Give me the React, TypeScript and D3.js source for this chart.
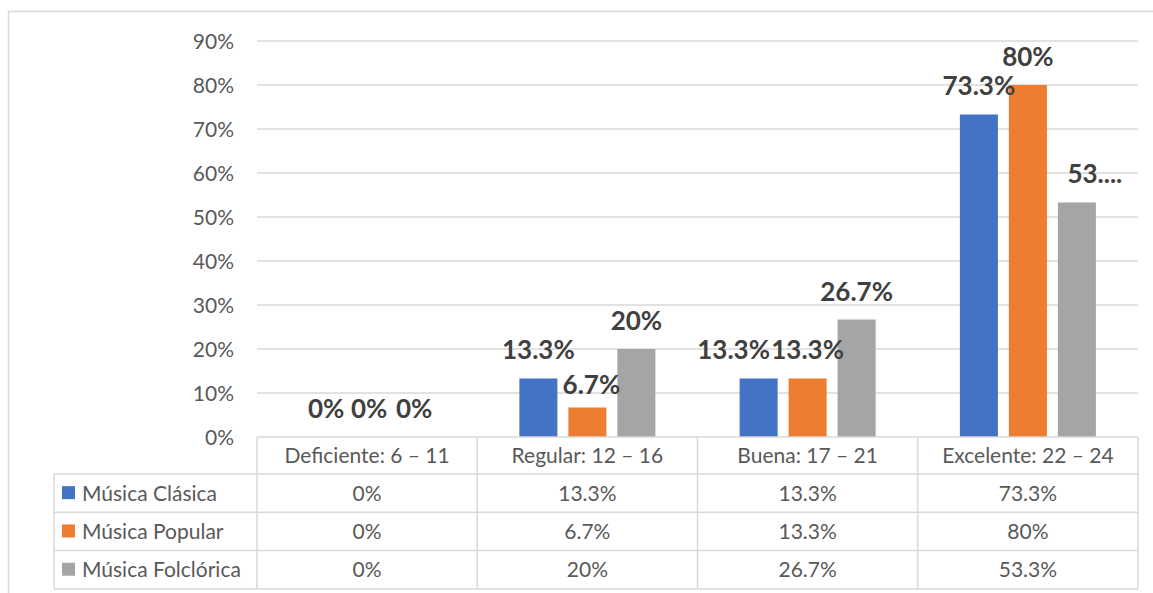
import React from 'react';
import * as d3 from 'd3';

// categories (puntuación) and series values, in percent
const categories = ['Deficiente: 6 – 11', 'Regular: 12 – 16', 'Buena: 17 – 21', 'Excelente: 22 – 24'];
const seriesNames = ['Música Clásica', 'Música Popular', 'Música Folclórica'];
const clasica = [0, 13.3, 13.3, 73.3];
const popular = [0, 6.7, 13.3, 80];
const folclorica = [0, 20, 26.7, 53.3];
// labels as printed on the bars (Excel truncated the last one)
const clasicaLabels = ['0%', '13.3%', '13.3%', '73.3%'];
const popularLabels = ['0%', '6.7%', '13.3%', '80%'];
const folcloricaLabels = ['0%', '20%', '26.7%', '53....'];
// labels as printed in the data table
const tableClasica = ['0%', '13.3%', '13.3%', '73.3%'];
const tablePopular = ['0%', '6.7%', '13.3%', '80%'];
const tableFolclorica = ['0%', '20%', '26.7%', '53.3%'];
const yTicks = [0, 10, 20, 30, 40, 50, 60, 70, 80, 90];

const colors = ['#4472C4', '#ED7D31', '#A5A5A5'];

const W = 1153;
const H = 593;
const plot = { left: 257, right: 1138, top: 41, bottom: 437 };
const headerH = 37;
const rowH = 38.3;
const legendLeft = 54;

// hand nudges for data labels that Excel moved apart, keyed "series-category"
const labelNudge: Record<string, [number, number]> = {
  '0-0': [8, 0],
  '1-0': [2, 0],
  '2-0': [-2, 0],
  '1-1': [4, 5],
  '0-2': [-25, 0],
  '2-3': [18, 0],
};

const App = () => {
  const values = [clasica, popular, folclorica];
  const labels = [clasicaLabels, popularLabels, folcloricaLabels];
  const tableRows = [tableClasica, tablePopular, tableFolclorica];

  const x0 = d3.scaleBand<string>().domain(categories).range([plot.left, plot.right]);
  const y = d3.scaleLinear().domain([0, 90]).range([plot.bottom, plot.top]);

  // bars inside each category: 38px wide, 11px apart
  const x1 = d3.scaleBand<string>()
    .domain(seriesNames)
    .range([0, x0.bandwidth()])
    .paddingInner(0.224)
    .paddingOuter(0.86);

  const font = 'Lato, "Open Sans", sans-serif';
  const grid = '#D9D9D9';
  const textColor = '#595959';

  const tableTop = plot.bottom;
  const tableBottom = tableTop + headerH + rowH * 3;

  return (
    <svg width={W} height={H} style={{ position: 'absolute', left: 0, top: 0, background: '#fff' }}
      fontFamily={font}>
      <rect x={0} y={0} width={W} height={H} fill="#fff" />
      {/* chart border */}
      <rect x={8.5} y={11.5} width={1160} height={620} fill="none" stroke={grid} strokeWidth={1.5} />

      {/* gridlines and y axis */}
      {yTicks.map(t => (
        <g key={t}>
          {t > 0 && (
            <line x1={plot.left} x2={plot.right} y1={y(t)} y2={y(t)} stroke={grid} strokeWidth={1.3} />
          )}
          <text x={234} y={y(t)} dy="0.36em" textAnchor="end" fontSize={21} fill={textColor}>
            {t}%
          </text>
        </g>
      ))}

      {/* bars */}
      {values.map((vals, si) => vals.map((v, ci) => {
        const bx = (x0(categories[ci]) ?? 0) + (x1(seriesNames[si]) ?? 0);
        return (
          <rect key={`b-${si}-${ci}`} x={bx} y={y(v)} width={x1.bandwidth()}
            height={plot.bottom - y(v)} fill={colors[si]} />
        );
      }))}

      {/* data labels */}
      {values.map((vals, si) => vals.map((v, ci) => {
        const cx = (x0(categories[ci]) ?? 0) + (x1(seriesNames[si]) ?? 0) + x1.bandwidth() / 2;
        const [dx, dy] = labelNudge[`${si}-${ci}`] ?? [0, 0];
        return (
          <text key={`l-${si}-${ci}`} x={cx + dx} y={y(v) - 19 + dy} textAnchor="middle"
            fontSize={26} fontWeight="bold" fill="#404040">
            {labels[si][ci]}
          </text>
        );
      }))}

      {/* data table */}
      <g stroke={grid} strokeWidth={1.5}>
        <line x1={plot.left} x2={plot.right} y1={tableTop} y2={tableTop} />
        {[0, 1, 2, 3].map(r => (
          <line key={`h-${r}`} x1={legendLeft} x2={plot.right}
            y1={tableTop + headerH + r * rowH} y2={tableTop + headerH + r * rowH} />
        ))}
        <line x1={legendLeft} x2={legendLeft} y1={tableTop + headerH} y2={tableBottom} />
        {categories.map(c => (
          <line key={`v-${c}`} x1={x0(c)} x2={x0(c)} y1={tableTop} y2={tableBottom} />
        ))}
        <line x1={plot.right} x2={plot.right} y1={tableTop} y2={tableBottom} />
      </g>

      {categories.map(c => (
        <text key={`c-${c}`} x={(x0(c) ?? 0) + x0.bandwidth() / 2} y={tableTop + headerH / 2}
          dy="0.36em" textAnchor="middle" fontSize={21} fill={textColor}>
          {c}
        </text>
      ))}

      {seriesNames.map((s, si) => {
        const cy = tableTop + headerH + si * rowH + rowH / 2;
        return (
          <g key={`r-${s}`}>
            <rect x={62} y={cy - 7} width={13} height={13} fill={colors[si]} />
            <text x={82} y={cy} dy="0.36em" fontSize={21} fill={textColor}>{s}</text>
            {tableRows[si].map((t, ci) => (
              <text key={`t-${si}-${ci}`} x={(x0(categories[ci]) ?? 0) + x0.bandwidth() / 2} y={cy}
                dy="0.36em" textAnchor="middle" fontSize={21} fill={textColor}>
                {t}
              </text>
            ))}
          </g>
        );
      })}
    </svg>
  );
};

export default App;
